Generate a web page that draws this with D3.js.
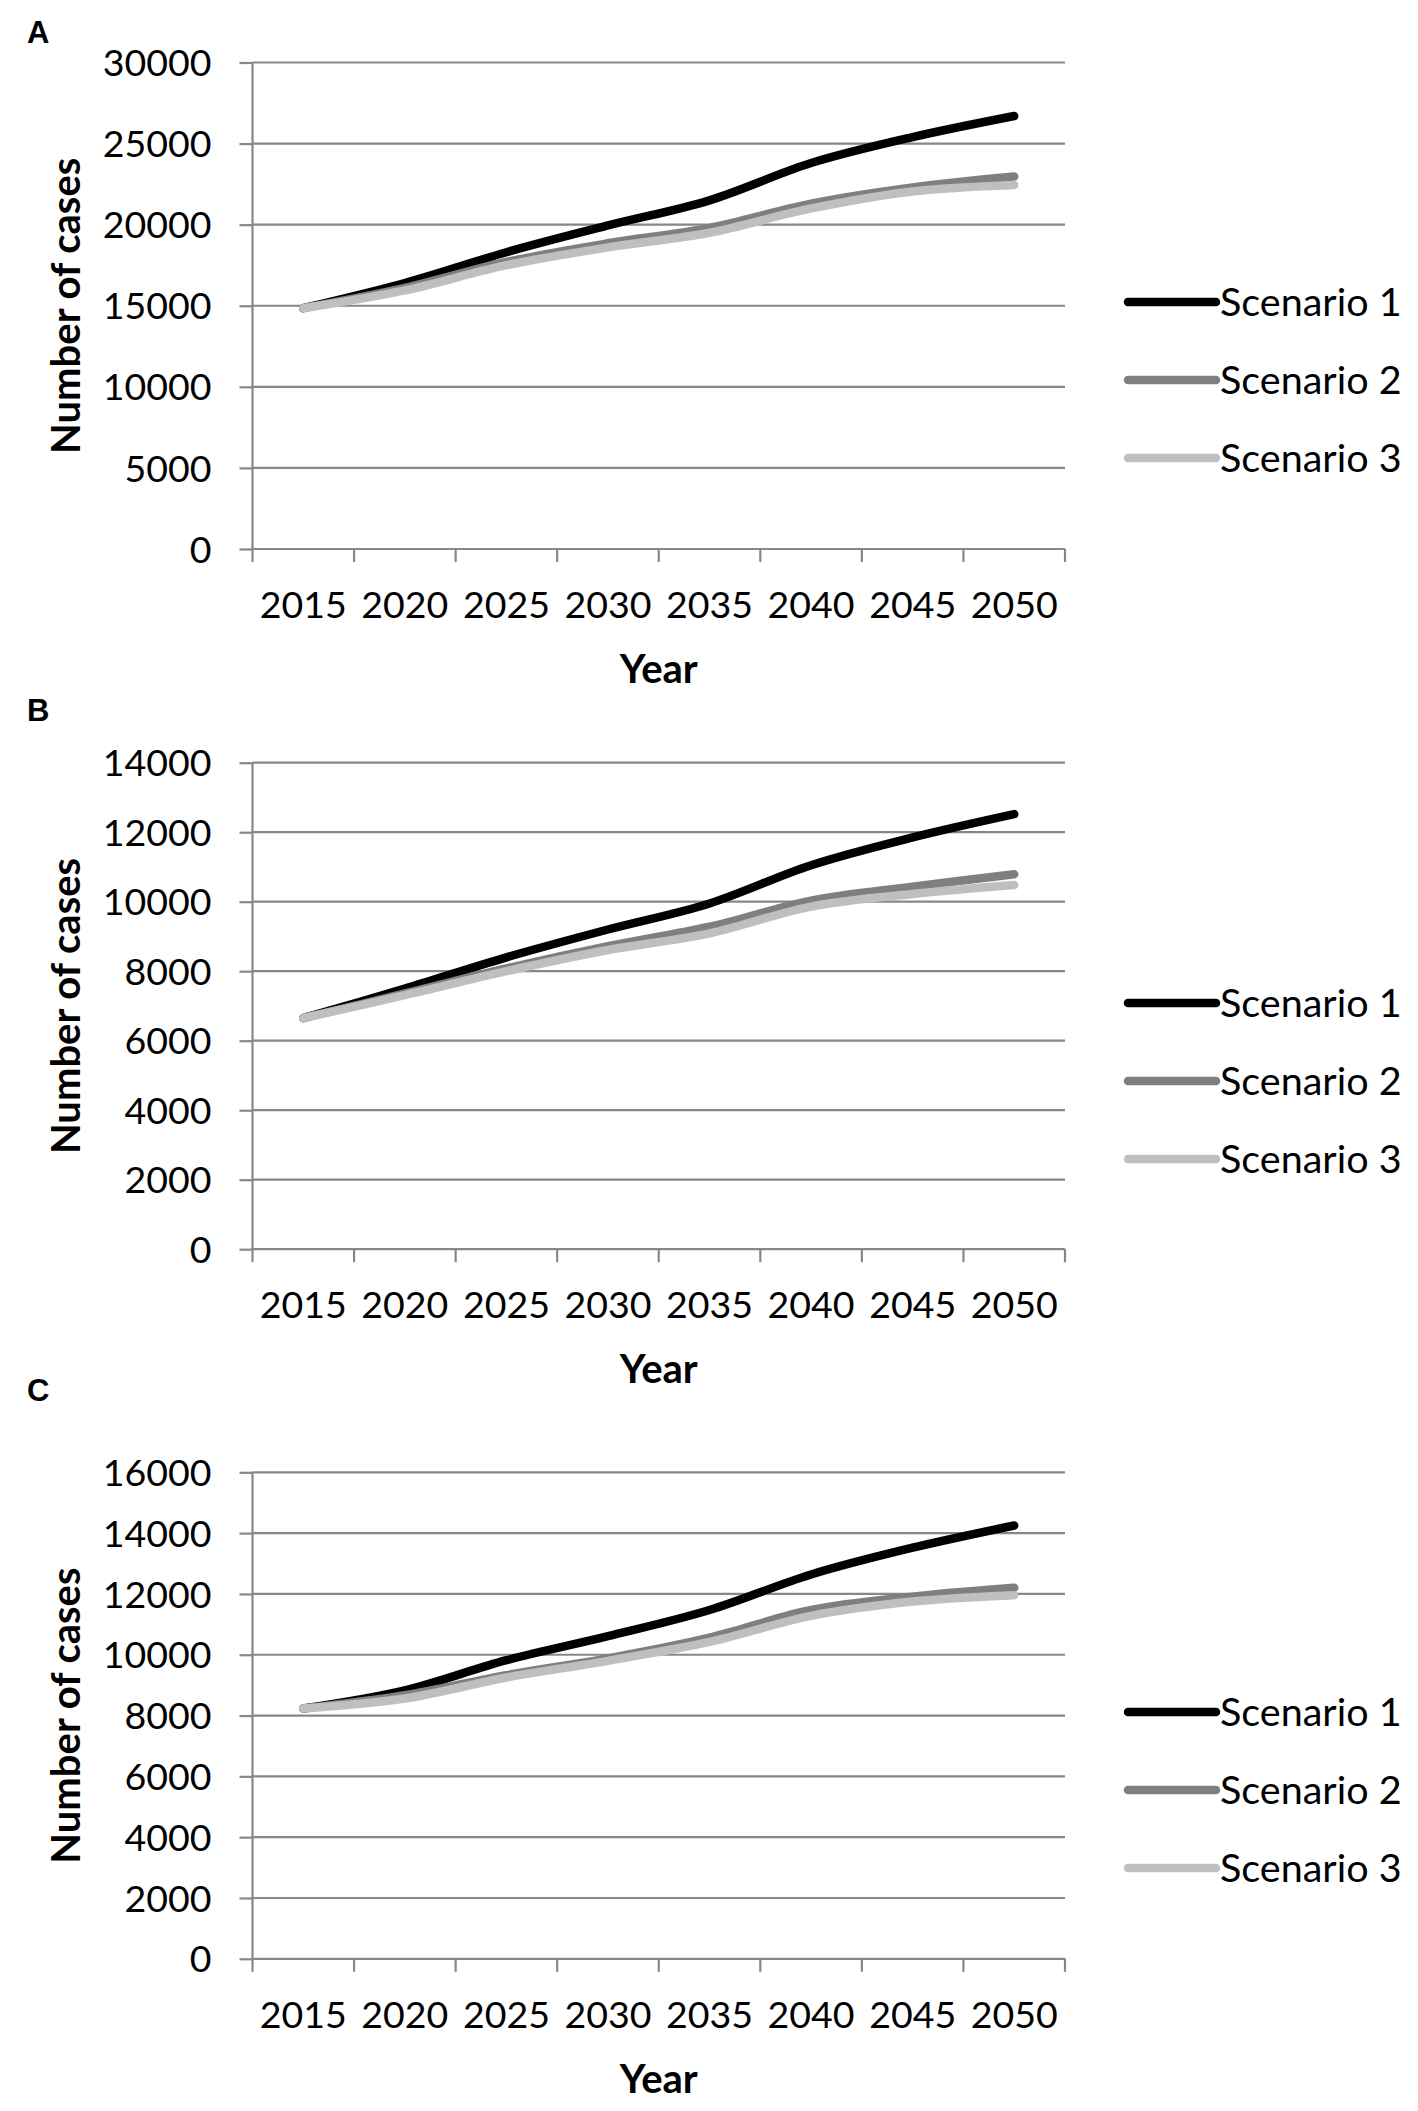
<!DOCTYPE html>
<html>
<head>
<meta charset="utf-8">
<script src="https://cdn.jsdelivr.net/npm/d3@7"></script>
<style>
  html, body { margin: 0; padding: 0; background: #ffffff; }
  svg { display: block; }
</style>
</head>
<body>
<script>
// ---------- DATA ----------
const years = [2015, 2020, 2025, 2030, 2035, 2040, 2045, 2050];
const seriesNames = ["Scenario 1", "Scenario 2", "Scenario 3"];
const panelLetters = ["A", "B", "C"];

const aScenario1 = [14850, 16400, 18300, 19950, 21500, 23800, 25400, 26700];
const aScenario2 = [14850, 16100, 17700, 18850, 19800, 21300, 22300, 22970];
const aScenario3 = [14850, 15950, 17500, 18600, 19500, 21000, 22050, 22450];
const aTicks = [0, 5000, 10000, 15000, 20000, 25000, 30000];

const bScenario1 = [6650, 7500, 8400, 9200, 9950, 11050, 11850, 12520];
const bScenario2 = [6650, 7360, 8080, 8720, 9280, 10030, 10430, 10790];
const bScenario3 = [6650, 7310, 8000, 8610, 9090, 9860, 10220, 10480];
const bTicks = [0, 2000, 4000, 6000, 8000, 10000, 12000, 14000];

const cScenario1 = [8230, 8830, 9820, 10610, 11470, 12640, 13520, 14250];
const cScenario2 = [8230, 8670, 9330, 9880, 10560, 11470, 11910, 12200];
const cScenario3 = [8230, 8560, 9250, 9800, 10420, 11280, 11750, 11960];
const cTicks = [0, 2000, 4000, 6000, 8000, 10000, 12000, 14000, 16000];

// ---------- LAYOUT / STYLE ----------
const W = 1418, H = 2111;
const seriesColors = ["#000000", "#7f7f7f", "#bfbfbf"];
const gridColor = "#878787";
const plotLeft = 252.5, plotRight = 1065;
const plotH = 486.5;
const fontMain = "Lato, 'Open Sans', sans-serif";

const panels = [
  { letter: panelLetters[0], series: [aScenario1, aScenario2, aScenario3], ticks: aTicks,
    top: 62.5, letterY: 43, legendY: [302, 380, 458] },
  { letter: panelLetters[1], series: [bScenario1, bScenario2, bScenario3], ticks: bTicks,
    top: 762.7, letterY: 721, legendY: [1003, 1081, 1159] },
  { letter: panelLetters[2], series: [cScenario1, cScenario2, cScenario3], ticks: cTicks,
    top: 1472.3, letterY: 1401, legendY: [1712, 1790, 1868] }
];

const svg = d3.select("body").append("svg")
  .attr("width", W).attr("height", H)
  .attr("viewBox", `0 0 ${W} ${H}`);

svg.append("rect").attr("width", W).attr("height", H).attr("fill", "#fff");

const x = d3.scaleBand().domain(years).range([plotLeft, plotRight]).paddingInner(0).paddingOuter(0);

panels.forEach(p => {
  const g = svg.append("g");
  const bottom = p.top + plotH;
  const y = d3.scaleLinear()
    .domain([0, d3.max(p.ticks)])
    .range([bottom, p.top]);

  // panel letter
  g.append("text")
    .attr("x", 27).attr("y", p.letterY)
    .attr("font-family", "'Liberation Sans', Arial, sans-serif")
    .attr("font-weight", "bold").attr("font-size", 31)
    .text(p.letter);

  // gridlines
  g.append("g").selectAll("line").data(p.ticks.filter(t => t > 0)).join("line")
    .attr("x1", plotLeft).attr("x2", plotRight)
    .attr("y1", d => y(d)).attr("y2", d => y(d))
    .attr("stroke", gridColor).attr("stroke-width", 2.2);

  // y axis
  const yAxis = d3.axisLeft(y).tickValues(p.ticks).tickSize(13).tickPadding(0)
    .tickFormat(d3.format("d"));
  const ya = g.append("g").attr("transform", `translate(${plotLeft},0)`).call(yAxis);
  ya.select(".domain").attr("stroke", gridColor).attr("stroke-width", 2.2)
    .attr("d", `M0,${bottom}V${p.top}`);
  ya.selectAll(".tick line").attr("stroke", gridColor).attr("stroke-width", 2.2);
  ya.selectAll(".tick text")
    .attr("x", -41).attr("dy", "0.35em")
    .attr("font-family", fontMain).attr("font-size", 37.5).attr("fill", "#000");

  // x axis (ticks between categories)
  const boundaries = years.map(d => x(d)).concat([plotRight]);
  const xa = g.append("g");
  xa.append("line").attr("x1", plotLeft).attr("x2", plotRight)
    .attr("y1", bottom).attr("y2", bottom)
    .attr("stroke", gridColor).attr("stroke-width", 2.2);
  xa.selectAll("line.tk").data(boundaries).join("line").attr("class", "tk")
    .attr("x1", d => d).attr("x2", d => d)
    .attr("y1", bottom).attr("y2", bottom + 13)
    .attr("stroke", gridColor).attr("stroke-width", 2.2);
  xa.selectAll("text").data(years).join("text")
    .attr("x", d => x(d) + x.bandwidth() / 2)
    .attr("y", bottom + 69)
    .attr("text-anchor", "middle")
    .attr("font-family", fontMain).attr("font-size", 37.5).attr("fill", "#000")
    .text(d => d);

  // axis titles
  g.append("text")
    .attr("x", (plotLeft + plotRight) / 2).attr("y", bottom + 134)
    .attr("text-anchor", "middle")
    .attr("font-family", fontMain).attr("font-weight", "bold").attr("font-size", 40)
    .text("Year");
  g.append("text")
    .attr("transform", `translate(80,${(p.top + bottom) / 2}) rotate(-90)`)
    .attr("text-anchor", "middle")
    .attr("font-family", fontMain).attr("font-weight", "bold").attr("font-size", 40)
    .text("Number of cases");

  // lines
  const line = d3.line()
    .x((d, i) => x(years[i]) + x.bandwidth() / 2)
    .y(d => y(d))
    .curve(d3.curveCatmullRom.alpha(0.5));
  p.series.forEach((s, i) => {
    g.append("path").datum(s)
      .attr("d", line)
      .attr("fill", "none")
      .attr("stroke", seriesColors[i])
      .attr("stroke-width", 8.5)
      .attr("stroke-linecap", "round")
      .attr("stroke-linejoin", "round");
  });

  // legend
  const lg = g.append("g");
  seriesNames.forEach((name, i) => {
    const ly = p.legendY[i];
    lg.append("line")
      .attr("x1", 1128).attr("x2", 1216).attr("y1", ly).attr("y2", ly)
      .attr("stroke", seriesColors[i]).attr("stroke-width", 8.5)
      .attr("stroke-linecap", "round");
    lg.append("text")
      .attr("x", 1220).attr("y", ly).attr("dy", "0.35em")
      .attr("font-family", fontMain).attr("font-size", 39.5).attr("fill", "#000")
      .text(name);
  });
});
</script>
</body>
</html>
